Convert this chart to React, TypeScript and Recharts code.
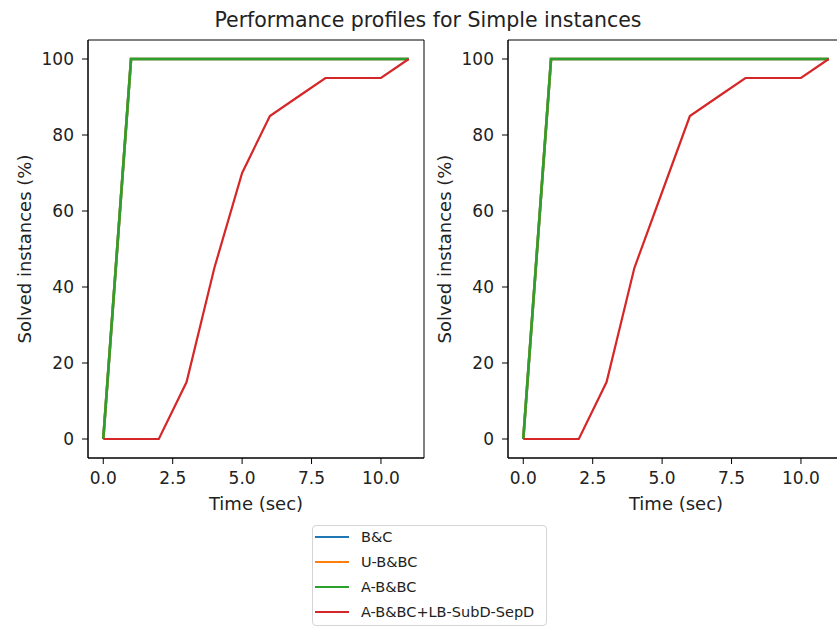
import { LineChart, Line, XAxis, YAxis, ReferenceArea } from "recharts";

const times = [0, 1, 2, 3, 4, 5, 6, 7, 8, 9, 10, 11];

const leftBC = [0, 100, 100, 100, 100, 100, 100, 100, 100, 100, 100, 100];
const leftUBC = [0, 100, 100, 100, 100, 100, 100, 100, 100, 100, 100, 100];
const leftABC = [0, 100, 100, 100, 100, 100, 100, 100, 100, 100, 100, 100];
const leftLB = [0, 0, 0, 15, 45, 70, 85, 90, 95, 95, 95, 100];

const rightBC = [0, 100, 100, 100, 100, 100, 100, 100, 100, 100, 100, 100];
const rightUBC = [0, 100, 100, 100, 100, 100, 100, 100, 100, 100, 100, 100];
const rightABC = [0, 100, 100, 100, 100, 100, 100, 100, 100, 100, 100, 100];
const rightLB = [0, 0, 0, 15, 45, 65, 85, 90, 95, 95, 95, 100];

const seriesNames = ["B&C", "U-B&BC", "A-B&BC", "A-B&BC+LB-SubD-SepD"];
const seriesColors = ["#1f77b4", "#ff7f0e", "#2ca02c", "#d62728"];

const xTicks = [0, 2.5, 5, 7.5, 10];
const yTicks = [0, 20, 40, 60, 80, 100];

const X_DOMAIN: [number, number] = [-0.55, 11.55];
const Y_DOMAIN: [number, number] = [-5, 105];

const FONT = "DejaVu Sans, sans-serif";
const TICK = { fill: "#222", fontSize: 17, fontFamily: FONT };

function buildRows(series: number[][]) {
  return times.map((t, i) => {
    const row: Record<string, number> = { t };
    series.forEach((s, k) => {
      row["s" + k] = s[i];
    });
    return row;
  });
}

function Panel({ series, left }: { series: number[][]; left: number }) {
  const data = buildRows(series);
  return (
    <div style={{ position: "absolute", left, top: 0 }}>
      <LineChart
        width={430}
        height={520}
        data={data}
        margin={{ top: 40, right: 6, left: 18, bottom: 22 }}
      >
        <XAxis
          dataKey="t"
          type="number"
          domain={X_DOMAIN}
          allowDataOverflow
          ticks={xTicks}
          tickFormatter={(v: number) => v.toFixed(1)}
          tick={TICK}
          tickSize={6}
          tickMargin={8}
          height={40}
          tickLine={{ stroke: "#000" }}
          axisLine={{ stroke: "#000" }}
        />
        <YAxis
          type="number"
          domain={Y_DOMAIN}
          allowDataOverflow
          ticks={yTicks}
          tick={TICK}
          tickSize={6}
          tickMargin={8}
          width={70}
          tickLine={{ stroke: "#000" }}
          axisLine={{ stroke: "#000" }}
        />
        <ReferenceArea
          x1={X_DOMAIN[0]}
          x2={X_DOMAIN[1]}
          y1={Y_DOMAIN[0]}
          y2={Y_DOMAIN[1]}
          fill="none"
          fillOpacity={0}
          stroke="#000"
          strokeWidth={1}
          ifOverflow="visible"
        />
        {series.map((_, k) => (
          <Line
            key={k}
            type="linear"
            dataKey={"s" + k}
            stroke={seriesColors[k]}
            strokeWidth={k === 3 ? 2.2 : 2.6}
            dot={false}
            activeDot={false}
            isAnimationActive={false}
          />
        ))}
      </LineChart>
    </div>
  );
}

export default function App() {
  return (
    <div
      style={{
        position: "absolute",
        left: 0,
        top: 0,
        width: 837,
        height: 627,
        overflow: "hidden",
        background: "#fff",
        fontFamily: FONT,
      }}
    >
      <Panel series={[leftBC, leftUBC, leftABC, leftLB]} left={0} />
      <Panel series={[rightBC, rightUBC, rightABC, rightLB]} left={420} />
      <svg
        width={837}
        height={627}
        style={{ position: "absolute", left: 0, top: 0, pointerEvents: "none" }}
        fontFamily={FONT}
        fill="#222"
      >
        <text x={428} y={26.5} textAnchor="middle" fontSize={20.5}>
          Performance profiles for Simple instances
        </text>
        {[0, 420].map((dx) => (
          <g key={dx}>
            <text x={256 + dx} y={509.5} textAnchor="middle" fontSize={18}>
              Time (sec)
            </text>
            <text
              x={31 + dx}
              y={249}
              textAnchor="middle"
              fontSize={18}
              transform={`rotate(-90 ${31 + dx} 249)`}
            >
              Solved instances (%)
            </text>
          </g>
        ))}
      </svg>
      <div
        style={{
          position: "absolute",
          left: 312,
          top: 525,
          width: 233,
          height: 99,
          border: "1px solid #d4d4d4",
          borderRadius: 4,
          background: "#fff",
        }}
      >
        {seriesNames.map((name, k) => (
          <div
            key={name}
            style={{
              position: "absolute",
              left: 2,
              top: 11 + k * 25 - 10,
              height: 20,
              display: "flex",
              alignItems: "center",
              whiteSpace: "nowrap",
            }}
          >
            <div
              style={{
                width: 34,
                height: 2.2,
                background: seriesColors[k],
                marginRight: 12,
              }}
            />
            <span style={{ fontSize: 14.5, color: "#222" }}>{name}</span>
          </div>
        ))}
      </div>
    </div>
  );
}
